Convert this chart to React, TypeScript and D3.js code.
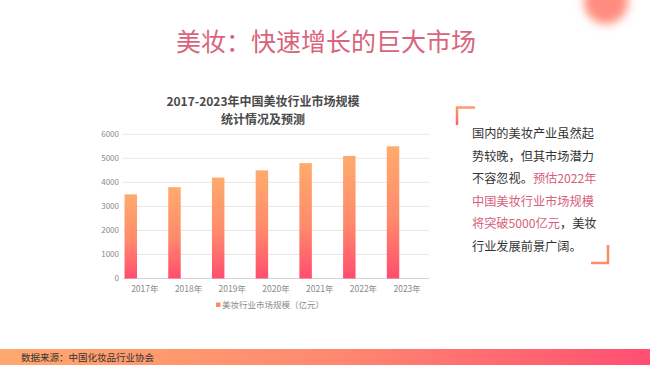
import React, { useEffect, useRef } from 'react';
import * as d3 from 'd3';

const years = ['2017年', '2018年', '2019年', '2020年', '2021年', '2022年', '2023年'];
const marketSize = [3500, 3800, 4200, 4500, 4800, 5100, 5500];
const yTicks = [0, 1000, 2000, 3000, 4000, 5000, 6000];
const chartTitle = ['2017-2023年中国美妆行业市场规模', '统计情况及预测'];
const legendLabel = '美妆行业市场规模（亿元）';
const pageTitle = '美妆：快速增长的巨大市场';
const sourceText = '数据来源：中国化妆品行业协会';
// each line: [dark part, pink part, dark part]
const noteLines: [string, string, string][] = [
  ['国内的美妆产业虽然起', '', ''],
  ['势较晚，但其市场潜力', '', ''],
  ['不容忽视。', '预估2022年', ''],
  ['', '中国美妆行业市场规模', ''],
  ['', '将突破5000亿元', '，美妆'],
  ['行业发展前景广阔。', '', ''],
];

const FONT = '"Noto Sans CJK SC", "Noto Sans", sans-serif';

const App: React.FC = () => {
  const svgRef = useRef<SVGSVGElement>(null);

  useEffect(() => {
    if (!svgRef.current) return;
    const W = 650, H = 365;
    const svg = d3.select(svgRef.current);
    svg.selectAll('*').remove();
    svg.attr('width', W).attr('height', H).style('font-family', FONT);

    const defs = svg.append('defs');

    const barGrad = defs.append('linearGradient')
      .attr('id', 'barGrad').attr('x1', 0).attr('y1', 0).attr('x2', 0).attr('y2', 1);
    barGrad.append('stop').attr('offset', '0%').attr('stop-color', '#ffab6c');
    barGrad.append('stop').attr('offset', '55%').attr('stop-color', '#ff8a6c');
    barGrad.append('stop').attr('offset', '100%').attr('stop-color', '#ff4d6e');

    const footGrad = defs.append('linearGradient')
      .attr('id', 'footGrad').attr('x1', 0).attr('y1', 0).attr('x2', 1).attr('y2', 0);
    footGrad.append('stop').attr('offset', '0%').attr('stop-color', '#ffa86e');
    footGrad.append('stop').attr('offset', '50%').attr('stop-color', '#ff8a6f');
    footGrad.append('stop').attr('offset', '100%').attr('stop-color', '#ff4f72');

    const brGrad = defs.append('linearGradient')
      .attr('id', 'brGrad').attr('x1', 0).attr('y1', 0).attr('x2', 0).attr('y2', 1);
    brGrad.append('stop').attr('offset', '0%').attr('stop-color', '#ff9a6a');
    brGrad.append('stop').attr('offset', '100%').attr('stop-color', '#ff5a74');

    const blur = defs.append('filter').attr('id', 'blur')
      .attr('x', '-50%').attr('y', '-50%').attr('width', '200%').attr('height', '200%');
    blur.append('feGaussianBlur').attr('stdDeviation', 5);

    svg.append('rect').attr('width', W).attr('height', H).attr('fill', '#fff');

    // blurred blob top right
    svg.append('circle')
      .attr('cx', 606).attr('cy', 2).attr('r', 22)
      .attr('fill', '#ff8d7e').attr('filter', 'url(#blur)');

    // page title
    svg.append('text')
      .attr('x', 326).attr('y', 51)
      .attr('text-anchor', 'middle')
      .attr('font-size', 25)
      .attr('fill', '#d9647b')
      .text(pageTitle);

    // chart
    const x = d3.scaleBand<string>().domain(years).range([123, 429]).padding(0);
    const y = d3.scaleLinear().domain([0, 6000]).range([278.5, 134.3]);

    const g = svg.append('g');

    g.selectAll('line.grid')
      .data(yTicks)
      .enter().append('line')
      .attr('class', 'grid')
      .attr('x1', 123).attr('x2', 429)
      .attr('y1', d => y(d)).attr('y2', d => y(d))
      .attr('stroke', d => d === 0 ? '#d4d4d4' : '#e8e8e8')
      .attr('stroke-width', 1);

    g.selectAll('text.ytick')
      .data(yTicks)
      .enter().append('text')
      .attr('class', 'ytick')
      .attr('x', 119).attr('y', d => y(d))
      .attr('dy', '0.35em')
      .attr('text-anchor', 'end')
      .attr('font-size', 8)
      .attr('fill', '#8a8a8a')
      .text(d => d);

    const bw = x.bandwidth();
    g.selectAll('rect.bar')
      .data(marketSize)
      .enter().append('rect')
      .attr('class', 'bar')
      .attr('x', (_, i) => (x(years[i]) as number) + bw * 0.035)
      .attr('y', d => y(d))
      .attr('width', bw * 0.285)
      .attr('height', d => y(0) - y(d))
      .attr('fill', 'url(#barGrad)');

    g.selectAll('text.xtick')
      .data(years)
      .enter().append('text')
      .attr('class', 'xtick')
      .attr('x', d => (x(d) as number) + bw / 2)
      .attr('y', 292)
      .attr('text-anchor', 'middle')
      .attr('font-size', 8.5)
      .attr('fill', '#8a8a8a')
      .text(d => d);

    // chart title
    chartTitle.forEach((t, i) => {
      g.append('text')
        .attr('x', 263).attr('y', 105.5 + i * 18)
        .attr('text-anchor', 'middle')
        .attr('font-size', 12)
        .attr('font-weight', 'bold')
        .attr('fill', '#4a4a4a')
        .text(t);
    });

    // legend
    g.append('rect')
      .attr('x', 216).attr('y', 302.5).attr('width', 4.5).attr('height', 4.5)
      .attr('fill', '#ff8a6c');
    g.append('text')
      .attr('x', 222).attr('y', 308)
      .attr('font-size', 8.5)
      .attr('fill', '#8a8a8a')
      .text(legendLabel);

    // brackets
    svg.append('path')
      .attr('d', 'M457,125 L457,107.5 L475,107.5')
      .attr('fill', 'none').attr('stroke', 'url(#brGrad)').attr('stroke-width', 2.5);
    svg.append('path')
      .attr('d', 'M608,245 L608,263 L591,263')
      .attr('fill', 'none').attr('stroke', '#ff8a6c').attr('stroke-width', 2.5);

    // note text
    noteLines.forEach((parts, i) => {
      const t = svg.append('text')
        .attr('x', 472).attr('y', 138 + i * 22.6)
        .attr('font-size', 12.2);
      const colors = ['#333', '#d6607a', '#333'];
      parts.forEach((p, j) => {
        if (p) t.append('tspan').attr('fill', colors[j]).text(p);
      });
    });

    // footer
    svg.append('rect')
      .attr('x', 0).attr('y', 349).attr('width', W).attr('height', 16)
      .attr('fill', 'url(#footGrad)');
    svg.append('text')
      .attr('x', 21).attr('y', 360.5)
      .attr('font-size', 9.5)
      .attr('fill', '#333')
      .text(sourceText);
  }, []);

  return (
    <div style={{ position: 'absolute', left: 0, top: 0, width: 650, height: 365 }}>
      <svg ref={svgRef} width={650} height={365}></svg>
    </div>
  );
};

export default App;
